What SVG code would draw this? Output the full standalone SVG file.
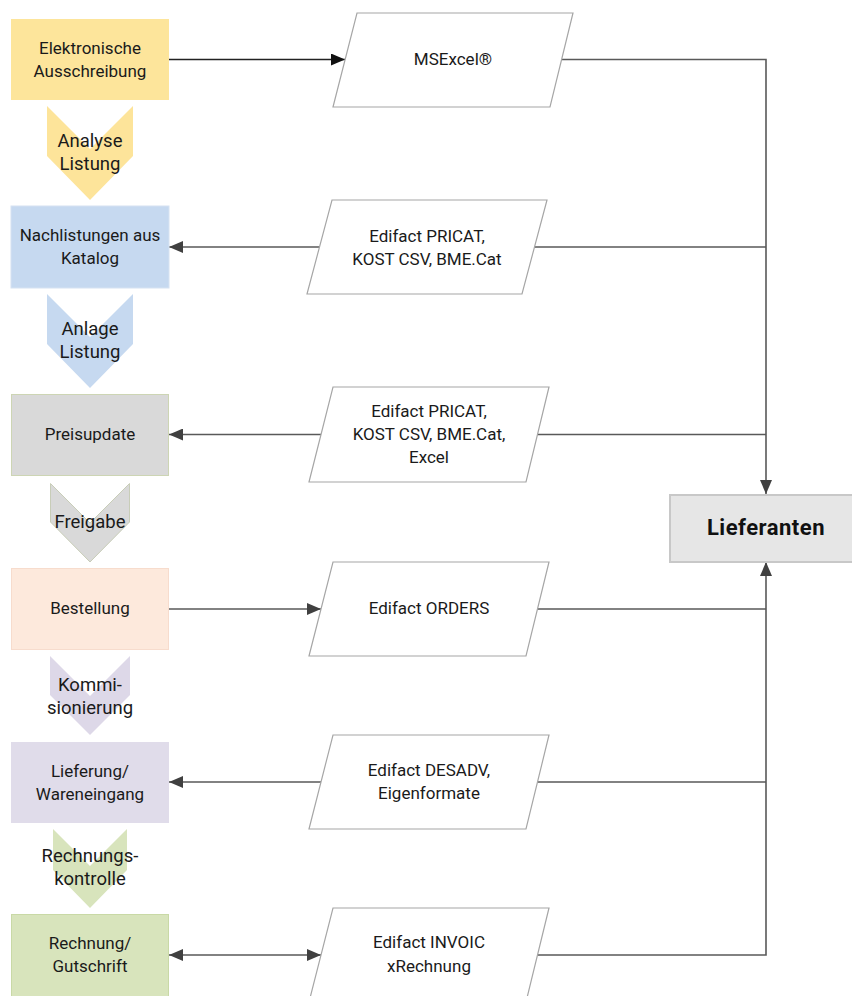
<svg xmlns="http://www.w3.org/2000/svg" width="852" height="996" viewBox="0 0 852 996">
<defs>
<marker id="ah" markerWidth="14" markerHeight="12" refX="14" refY="6" orient="auto-start-reverse" markerUnits="userSpaceOnUse"><path d="M0,0 L14,6 L0,12 z" fill="#404040"/></marker>
<marker id="ahb" markerWidth="14" markerHeight="12" refX="14" refY="6" orient="auto" markerUnits="userSpaceOnUse"><path d="M0,0 L14,6 L0,12 z" fill="#111"/></marker>
<style>
.t{font-family:Roboto,"Liberation Sans",sans-serif;font-size:17px;fill:#1a1a1a;text-anchor:middle}
.c{font-family:Roboto,"Liberation Sans",sans-serif;font-size:18.5px;fill:#1a1a1a;text-anchor:middle}
.p{fill:#fff;stroke:#a6a6a6;stroke-width:1.2}
.ln{fill:none;stroke:#595959;stroke-width:1.6}
</style>
</defs>
<rect width="852" height="996" fill="#fff"/>
<g id="connectors">
<path class="ln" d="M169,59.5 H345" marker-end="url(#ahb)" style="stroke:#222"/>
<path class="ln" d="M561.5,59.5 H766 V494" marker-end="url(#ah)"/>
<path class="ln" d="M534.5,247 H766"/>
<path class="ln" d="M319.5,247 H169" marker-end="url(#ah)"/>
<path class="ln" d="M537.5,434.5 H766"/>
<path class="ln" d="M321,434.5 H169" marker-end="url(#ah)"/>
<path class="ln" d="M169,609 H321" marker-end="url(#ah)"/>
<path class="ln" d="M537.5,609 H766"/>
<path class="ln" d="M537.5,782 H766"/>
<path class="ln" d="M321,782 H169" marker-end="url(#ah)"/>
<path class="ln" d="M537.5,955 H766 V562" marker-end="url(#ah)"/>
<path class="ln" d="M169,955 H321" marker-start="url(#ah)" marker-end="url(#ah)"/>
</g>
<g id="n1"><rect x="11" y="19" width="158" height="81" fill="#fde59b"/><text class="t" x="90" y="54">Elektronische</text><text class="t" x="90" y="77">Ausschreibung</text></g>
<g id="ch1"><path d="M47,106 L90,149 L133,106 V156 L90,200 L47,156 z" fill="#fde49a"/><text class="c" x="90" y="147">Analyse</text><text class="c" x="90" y="170">Listung</text></g>
<g id="n2"><rect x="11" y="206" width="158" height="82" fill="#c6d9f0" stroke="#d6e2f2" stroke-width="1"/><text class="t" x="90" y="241">Nachlistungen aus</text><text class="t" x="90" y="264">Katalog</text></g>
<g id="ch2"><path d="M47,294 L90,337 L133,294 V344 L90,388 L47,344 z" fill="#c6d9f0"/><text class="c" x="90" y="335">Anlage</text><text class="c" x="90" y="358">Listung</text></g>
<g id="n3"><rect x="11.5" y="394.5" width="157" height="81" fill="#d9d9d9" stroke="#cdd5b4" stroke-width="1"/><text class="t" x="90" y="440">Preisupdate</text></g>
<g id="ch3"><path d="M50.5,483.5 L90,523 L129.5,483.5 V522 L90,562 L50.5,522 z" fill="#d9d9d9" stroke="#c8cdb8" stroke-width="1"/><text class="c" x="90" y="528">Freigabe</text></g>
<g id="n4"><rect x="11.5" y="568.5" width="157" height="81" fill="#fde9dc" stroke="#f7dccd" stroke-width="1"/><text class="t" x="90" y="614">Bestellung</text></g>
<g id="ch4"><path d="M50,656 L90,696 L130,656 V695 L90,735 L50,695 z" fill="#ddd8e8"/><text class="c" x="90" y="691">Kommi-</text><text class="c" x="90" y="714">sionierung</text></g>
<g id="n5"><rect x="11" y="742" width="158" height="81" fill="#e0dcea"/><text class="t" x="90" y="777">Lieferung/</text><text class="t" x="90" y="800">Wareneingang</text></g>
<g id="ch5"><path d="M53,829 L90,866 L127,829 V870 L90,908 L53,870 z" fill="#d8e4bc"/><text class="c" x="90" y="862">Rechnungs-</text><text class="c" x="90" y="885">kontrolle</text></g>
<g id="n6"><rect x="11.5" y="914.5" width="157" height="82" fill="#d8e4bc" stroke="#c9d9a6" stroke-width="1"/><text class="t" x="90" y="949">Rechnung/</text><text class="t" x="90" y="972">Gutschrift</text></g>
<g id="p1"><path class="p" d="M357,13 H573 L550,107 H333 z"/><text class="t" x="453" y="65">MSExcel®</text></g>
<g id="p2"><path class="p" d="M332,200 H547 L522,294 H307 z"/><text class="t" x="427" y="242">Edifact PRICAT,</text><text class="t" x="427" y="265">KOST CSV, BME.Cat</text></g>
<g id="p3"><path class="p" d="M333,387 H549 L526,482 H309 z"/><text class="t" x="429" y="417">Edifact PRICAT,</text><text class="t" x="429" y="440">KOST CSV, BME.Cat,</text><text class="t" x="429" y="463">Excel</text></g>
<g id="p4"><path class="p" d="M333,562 H549 L526,656 H309 z"/><text class="t" x="429" y="614">Edifact ORDERS</text></g>
<g id="p5"><path class="p" d="M333,735 H549 L526,829 H309 z"/><text class="t" x="429" y="776">Edifact DESADV,</text><text class="t" x="429" y="799">Eigenformate</text></g>
<g id="p6"><path class="p" d="M333,908 H549 L526,1002 H309 z"/><text class="t" x="429" y="948">Edifact INVOIC</text><text class="t" x="429" y="972">xRechnung</text></g>
<g id="lief"><rect x="670" y="495" width="196" height="67" fill="#e6e6e6" stroke="#c8c8c8" stroke-width="2"/><text x="766" y="535" style="font-family:Roboto,'Liberation Sans',sans-serif;font-size:22px;font-weight:bold;fill:#111;text-anchor:middle;letter-spacing:0.5px">Lieferanten</text></g>
</svg>
